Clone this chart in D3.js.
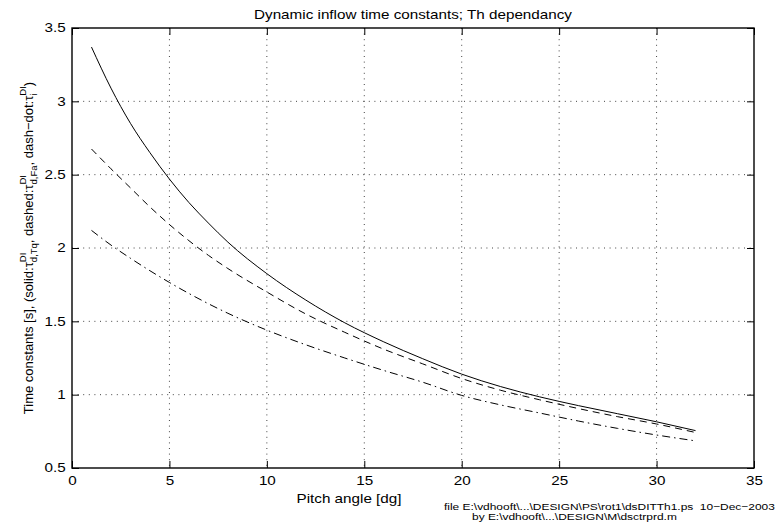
<!DOCTYPE html>
<html>
<head>
<meta charset="utf-8">
<script src="https://cdn.jsdelivr.net/npm/d3@7"></script>
<style>
body { margin: 0; background: #fff; }
text { font-family: "Liberation Sans", Arial, Helvetica, sans-serif; }
</style>
</head>
<body>
<div id="chart"></div>
<script>
// pitch angle [dg] and the three time constants
var pitch     = [1, 2, 3, 4, 5, 6, 7, 8, 10, 12, 14, 16, 18, 20, 22, 24, 26, 28, 30, 32];
var tauTq     = [3.37, 3.09, 2.85, 2.65, 2.47, 2.31, 2.17, 2.04, 1.825, 1.645, 1.49, 1.36, 1.245, 1.14, 1.055, 0.985, 0.925, 0.87, 0.815, 0.755];
var tauFa     = [2.675, 2.54, 2.41, 2.28, 2.16, 2.05, 1.95, 1.86, 1.70, 1.55, 1.425, 1.31, 1.21, 1.11, 1.03, 0.965, 0.905, 0.85, 0.80, 0.742];
var tauI      = [2.12, 2.02, 1.93, 1.845, 1.765, 1.69, 1.62, 1.555, 1.44, 1.34, 1.25, 1.165, 1.085, 0.995, 0.93, 0.875, 0.82, 0.77, 0.725, 0.685];
var xTicks    = [0, 5, 10, 15, 20, 25, 30, 35];
var yTicks    = [0.5, 1, 1.5, 2, 2.5, 3, 3.5];

var W = 783, H = 524;
var pL = 72, pR = 754, pT = 28, pB = 468;
var SX = 1.27; // text in the picture is drawn wide

var svg = d3.select("#chart").append("svg")
	.attr("width", W).attr("height", H);

var x = d3.scaleLinear().domain([0, 35]).range([pL, pR]);
var y = d3.scaleLinear().domain([0.5, 3.5]).range([pB, pT]);

// dotted grid
var grid = svg.append("g");
xTicks.slice(1, -1).forEach(function(t) {
	grid.append("line")
		.attr("x1", x(t)).attr("x2", x(t))
		.attr("y1", pT).attr("y2", pB);
});
yTicks.slice(1, -1).forEach(function(t) {
	grid.append("line")
		.attr("x1", pL).attr("x2", pR)
		.attr("y1", y(t)).attr("y2", y(t));
});
grid.selectAll("line")
	.attr("stroke", "#444")
	.attr("stroke-width", 1)
	.attr("stroke-dasharray", "1,4.6");

// axes with inward ticks
function styleAxis(g) {
	g.select(".domain").remove();
	g.selectAll(".tick line").attr("stroke", "#000").attr("stroke-width", 1);
	g.selectAll(".tick text")
		.style("font-size", "12px")
		.attr("fill", "#000")
		.attr("transform", "scale(" + SX + ",1)");
}
svg.append("g")
	.attr("transform", "translate(0," + pB + ")")
	.call(d3.axisBottom(x).tickValues(xTicks).tickSize(-7).tickPadding(8).tickFormat(d3.format("")))
	.call(styleAxis);
svg.append("g")
	.attr("transform", "translate(" + pL + ",0)")
	.call(d3.axisLeft(y).tickValues(yTicks).tickSize(-7).tickPadding(5).tickFormat(d3.format("")))
	.call(styleAxis);
svg.append("g")
	.attr("transform", "translate(0," + pT + ")")
	.call(d3.axisTop(x).tickValues(xTicks).tickSize(-7).tickFormat(""))
	.call(styleAxis);
svg.append("g")
	.attr("transform", "translate(" + pR + ",0)")
	.call(d3.axisRight(y).tickValues(yTicks).tickSize(-7).tickFormat(""))
	.call(styleAxis);

// box
svg.append("rect")
	.attr("x", pL).attr("y", pT)
	.attr("width", pR - pL).attr("height", pB - pT)
	.attr("fill", "none")
	.attr("stroke", "#000")
	.attr("stroke-width", 1.4);

// the three curves
var line = d3.line()
	.x(function(d) { return x(d[0]); })
	.y(function(d) { return y(d[1]); })
	.curve(d3.curveMonotoneX);

var series = [
	{ vals: tauTq, dash: null },
	{ vals: tauFa, dash: "7,5" },
	{ vals: tauI,  dash: "8,4,1.5,4" }
];
series.forEach(function(s) {
	svg.append("path")
		.datum(pitch.map(function(p, i) { return [p, s.vals[i]]; }))
		.attr("d", line)
		.attr("fill", "none")
		.attr("stroke", "#000")
		.attr("stroke-width", 1)
		.attr("stroke-dasharray", s.dash);
});

// horizontal texts, widened like the original
function wideText(tx, ty, size, anchor, str) {
	return svg.append("text")
		.attr("transform", "translate(" + tx + "," + ty + ") scale(" + SX + ",1)")
		.attr("xml:space", "preserve")
		.style("text-anchor", anchor)
		.style("font-size", size + "px")
		.text(str);
}
wideText(413, 19, 12, "middle", "Dynamic inflow time constants; Th dependancy");
wideText(349, 503, 12, "middle", "Pitch angle [dg]");
wideText(444, 510, 9.4, "start", "file E:\\vdhooft\\...\\DESIGN\\PS\\rot1\\dsDITTh1.ps  10\u2212Dec\u22122003");
wideText(472, 520, 9.4, "start", "by E:\\vdhooft\\...\\DESIGN\\M\\dsctrprd.m");

// y label with sub/superscripts
var ylab = svg.append("text")
	.attr("transform", "translate(33," + ((pT + pB) / 2) + ") rotate(-90)")
	.style("font-size", "13px");

var pend = null; // shift still owed after a sub/superscript pair
function addPlain(str) {
	var t = ylab.append("tspan").text(str);
	if (pend) { t.attr("dx", pend.dx).attr("dy", pend.dy); pend = null; }
	return t;
}
function addTau(sub, sup) {
	addPlain("\u03c4");
	var s1 = ylab.append("tspan").attr("dy", 4).style("font-size", "9.5px").text(sub);
	var ws = s1.node().getComputedTextLength();
	var s2 = ylab.append("tspan").attr("dx", -ws).attr("dy", -11).style("font-size", "9.5px").text(sup);
	var wp = s2.node().getComputedTextLength();
	pend = { dx: Math.max(0, ws - wp), dy: 7 };
}
addPlain("Time constants [s], (solid:");
addTau("d,Tq", "DI");
addPlain(", dashed:");
addTau("d,Fa", "DI");
addPlain(", dash\u2212dot:");
addTau("i", "DI");
addPlain(")");

// center the label on the plot height
var bb = ylab.node().getBBox();
ylab.attr("transform", "translate(33," + ((pT + pB) / 2 + bb.width / 2) + ") rotate(-90)");
</script>
</body>
</html>
